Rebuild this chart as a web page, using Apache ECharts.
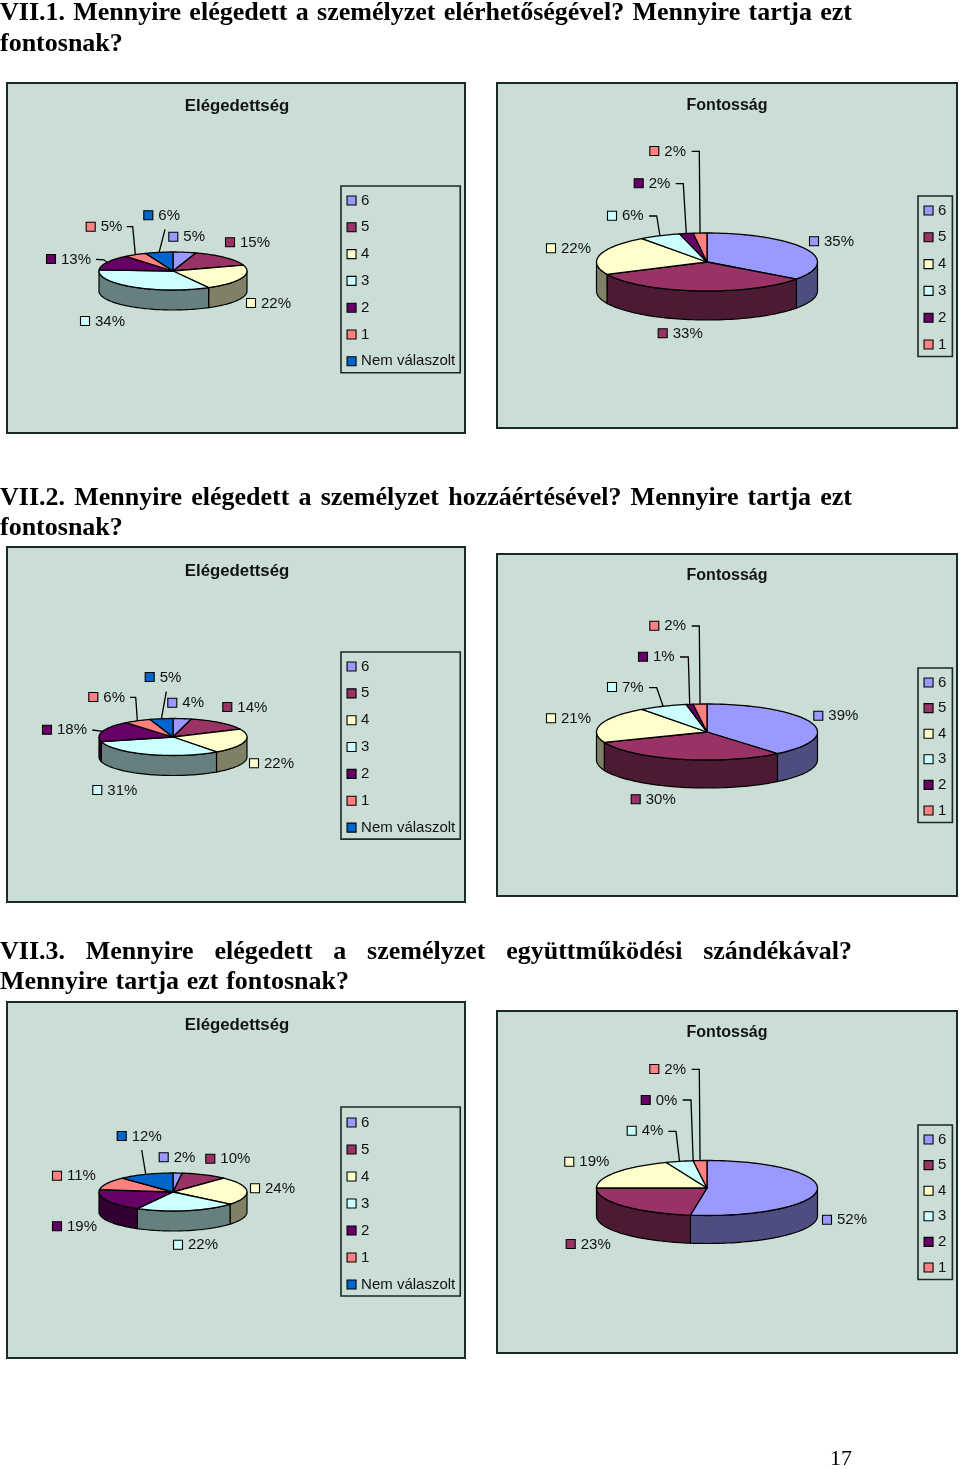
<!DOCTYPE html>
<html><head><meta charset="utf-8">
<style>html,body{margin:0;padding:0;background:#fff}#c{width:960px;height:1469px}</style>
<script src="https://cdn.jsdelivr.net/npm/echarts@6/dist/echarts.min.js"></script>
</head><body><div id="c"></div>
<script>
// ---- data ----
const categoriesWithNone = ['6','5','4','3','2','1','Nem válaszolt'];
const categories = ['6','5','4','3','2','1'];
const q1Satisfaction = [5,15,22,34,13,5,6];
const q1Importance   = [35,33,22,6,2,2];
const q2Satisfaction = [4,14,22,31,18,6,5];
const q2Importance   = [39,30,21,7,1,2];
const q3Satisfaction = [2,10,24,22,19,11,12];
const q3Importance   = [52.4,22.6,19,4,0,2];
const titleSatisfaction = 'Elégedettség';
const titleImportance = 'Fontosság';
const headings = [
  ['VII.1. Mennyire elégedett a személyzet elérhetőségével? Mennyire tartja ezt','fontosnak?'],
  ['VII.2. Mennyire elégedett a személyzet hozzáértésével? Mennyire tartja ezt','fontosnak?'],
  ['VII.3. Mennyire elégedett a személyzet együttműködési szándékával?','Mennyire tartja ezt fontosnak?']
];
const pageNumber = '17';

// ---- styles ----
const topColors  = {'6':'#9999FF','5':'#993366','4':'#FFFFCC','3':'#CCFFFF','2':'#660066','1':'#FF8080','Nem válaszolt':'#0066CC'};
const sideColors = {'6':'#4D4D80','5':'#4D1A33','4':'#808066','3':'#668080','2':'#330033','1':'#804040','Nem válaszolt':'#003366'};
const LABEL_FONT = 'Liberation Sans';

// ---- layout ----
const panels = [
 {values:q1Satisfaction,cats:categoriesWithNone,title:titleSatisfaction,tsize:16.8,box:[7,83,458,350],ty:105,
  pie:[173,271,74,19,20],legend:[341,186,11.8,7,4,5],
  labels:[[173.3,236.7],[230,242.3],[251,303],[85,321],[51,259],[90.7,226.7],[148.3,215.3]],
  leaders:{4:[[96,259.3],[104,259.8]],5:[[126.7,226.7],[132.7,226.7]],6:[[165,229.3]]}},
 {values:q1Importance,cats:categories,title:titleImportance,tsize:16,box:[497,83,460,345],ty:105,
  pie:[707,262,110.5,29,29],legend:[918,196,11.8,7,4.5,6],
  labels:[[814,241.3],[662.7,333.3],[551,248.3],[612,215.7],[638.7,183.3],[654.3,151]],
  leaders:{3:[[649,216],[656.7,216]],4:[[675.7,183.7],[683.3,183.7]],5:[[691.7,151.3],[699.3,151.3]]}},
 {values:q2Satisfaction,cats:categoriesWithNone,title:titleSatisfaction,tsize:16.8,box:[7,547,458,355],ty:570,
  pie:[173,737,74,18.5,20],legend:[341,652,11.85,7,4,5],
  labels:[[172.3,702.7],[227.3,707],[254,763.3],[97.3,790],[47,729.7],[93.3,697],[149.7,677]],
  leaders:{4:[[92.3,730]],5:[[130,697.3],[135.7,697.3]],6:[[166.3,691.7]]}},
 {values:q2Importance,cats:categories,title:titleImportance,tsize:16,box:[497,554,460,342],ty:575,
  pie:[707,732,110.5,28,28],legend:[918,668,10.6,7,4.5,6],
  labels:[[818.3,715.7],[635.7,799.3],[551,718.3],[612,687],[643,656.7],[654.3,625.7]],
  leaders:{3:[[649,687.7],[656.7,687.7]],4:[[680,657],[688.3,657]],5:[[691.7,626],[699.3,626]]}},
 {values:q3Satisfaction,cats:categoriesWithNone,title:titleSatisfaction,tsize:16.8,box:[7,1002,458,356],ty:1024,
  pie:[173,1192,74,19,20],legend:[341,1107,12,8,4,5],
  labels:[[163.7,1157.3],[210.3,1158.7],[255,1188.3],[178,1244.7],[57,1226.3],[57,1175.7],[121.7,1136]],
  leaders:{6:[[141.7,1150]]}},
 {values:q3Importance,cats:categories,title:titleImportance,tsize:16,box:[497,1011,460,342],ty:1032,
  pie:[707,1188,110.5,27.5,28],legend:[918,1125,10.6,7,4.5,6],
  labels:[[827,1219.7],[570.7,1244],[569.3,1161.7],[631.7,1130.7],[645.7,1100],[654.3,1069]],
  leaders:{3:[[668.3,1131.3],[676,1131.3]],4:[[682.7,1100],[691,1100]],5:[[691.7,1069.3],[699.3,1069.3]]}}
];
const headingLines = [[0,31],[485,515],[939,969]];
const HEADING_WIDTH = 852;
const LAST_LINE_WIDTH = [0,0,349];

// ---- helpers ----
const rad = d => d*Math.PI/180;
function pt(p,deg,dz){return [p[0]+p[2]*Math.sin(rad(deg)), p[1]-p[3]*Math.cos(rad(deg))+(dz||0)];}
function arc(p,a,b,dz){const n=Math.max(1,Math.ceil(Math.abs(b-a)/2)),r=[];for(let i=0;i<=n;i++)r.push(pt(p,a+(b-a)*i/n,dz));return r;}

function makeRender(panel,i,startPct){
  return function(params,api){
    const v=api.value(0), name=panel.cats[i], p=panel.pie;
    const a=startPct*3.6, b=(startPct+v)*3.6, children=[];
    const sa=Math.max(a,90), sb=Math.min(b,270);
    if(sb>sa){
      children.push({type:'polygon',shape:{points:arc(p,sa,sb,0).concat(arc(p,sa,sb,p[4]).reverse())},
        style:{fill:sideColors[name],stroke:'#000',lineWidth:1.2}});
    }
    if(v>0){
      children.push({type:'polygon',shape:{points:[[p[0],p[1]]].concat(arc(p,a,b,0))},
        style:{fill:topColors[name],stroke:'#000',lineWidth:1.3,lineJoin:'round'}});
    }
    const lab=panel.labels[i];
    if(panel.leaders[i]){
      const end=pt(p,(a+b)/2,0);
      children.push({type:'polyline',shape:{points:panel.leaders[i].concat([end])},
        style:{stroke:'#000',lineWidth:1.3,fill:null}});
    }
    children.push({type:'rect',shape:{x:lab[0]-4.5,y:lab[1]-4.5,width:9,height:9},
      style:{fill:topColors[name],stroke:'#000',lineWidth:1.1}});
    children.push({type:'text',style:{text:Math.round(v)+'%',x:lab[0]+10,y:lab[1]+0.5,fill:'#111',
      font:'15px "'+LABEL_FONT+'"',textAlign:'left',verticalAlign:'middle'}});
    return {type:'group',children};
  };
}

// ---- option pieces ----
const series=[], legends=[], titles=[], graphics=[];
panels.forEach(panel=>{
  let cum=0;
  panel.values.forEach((v,i)=>{
    const name=panel.cats[i];
    series.push({type:'custom',name,coordinateSystem:'none',data:[[v]],silent:true,animation:false,
      itemStyle:{color:topColors[name]},renderItem:makeRender(panel,i,cum),z:2+i});
    cum+=v;
  });
  const b=panel.box;
  graphics.push({type:'rect',z:0,shape:{x:b[0],y:b[1],width:b[2],height:b[3]},
    style:{fill:'#CADED6',stroke:'#1a2a26',lineWidth:2}});
  titles.push({text:panel.title,left:b[0]+230,top:panel.ty-8,textAlign:'center',padding:0,
    textStyle:{fontFamily:LABEL_FONT,fontWeight:'bold',fontSize:panel.tsize,color:'#111',lineHeight:18}});
  const L=panel.legend;
  legends.push({orient:'vertical',align:'left',left:L[0],top:L[1],itemGap:L[2],itemWidth:9,itemHeight:9,icon:'rect',
    selectedMode:false,padding:[L[3],L[5],L[4],5.5],borderColor:'#1a2a26',borderWidth:1.6,backgroundColor:'transparent',
    itemStyle:{borderColor:'#000',borderWidth:1.1},
    textStyle:{fontFamily:LABEL_FONT,fontSize:15,lineHeight:14,color:'#111',padding:0},
    data:panel.cats.map(n=>({name:n,icon:'rect',itemStyle:{color:topColors[n],borderColor:'#000',borderWidth:1.1}}))});
});

// justified headings
const headFont='bold 26px "Liberation Serif"';
const mc=document.createElement('canvas').getContext('2d');mc.font=headFont;
function placeLine(text,width,y){
  const words=text.split(' ');
  const widths=words.map(w=>mc.measureText(w).width);
  const total=widths.reduce((a,c)=>a+c,0);
  const gap=(width&&words.length>1)?(width-total)/(words.length-1):mc.measureText(' ').width;
  let x=0;
  words.forEach((w,k)=>{
    graphics.push({type:'text',z:5,x:x,y:y,style:{text:w,font:headFont,fill:'#000',verticalAlign:'top'}});
    x+=widths[k]+gap;
  });
}
headings.forEach((lines,h)=>{
  placeLine(lines[0],HEADING_WIDTH,headingLines[h][0]);
  placeLine(lines[1],LAST_LINE_WIDTH[h],headingLines[h][1]);
});
graphics.push({type:'text',z:5,x:830,y:1448,style:{text:pageNumber,font:'22px "Liberation Serif"',fill:'#000',verticalAlign:'top'}});

const chart=echarts.init(document.getElementById('c'),null,{renderer:'canvas',width:960,height:1469});
chart.setOption({animation:false,backgroundColor:'#fff',title:titles,legend:legends,graphic:{elements:graphics},series});
</script></body></html>
